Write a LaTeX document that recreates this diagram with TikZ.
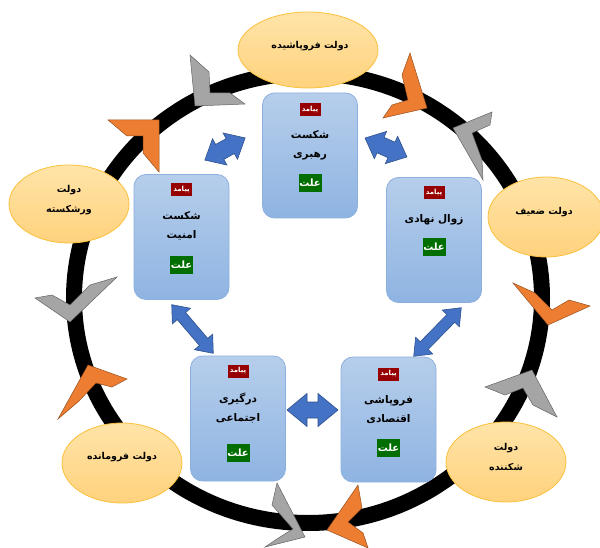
\documentclass[tikz,border=0pt]{standalone}
\usepackage{fontspec}
\newfontfamily\arabicfont[Script=Arabic]{DejaVu Sans}
\TeXXeTstate=1
\usetikzlibrary{shapes.geometric}
\newcommand\fa[1]{\beginR #1\endR}
\definecolor{stateline}{RGB}{250,192,60}
\definecolor{statetop}{RGB}{255,228,168}
\definecolor{statebot}{RGB}{255,210,125}
\definecolor{boxline}{RGB}{140,176,222}
\definecolor{boxtop}{RGB}{182,206,235}
\definecolor{boxbot}{RGB}{143,180,226}
\definecolor{tagred}{RGB}{150,0,0}
\definecolor{taggreen}{RGB}{0,110,0}
\definecolor{chevorange}{RGB}{237,125,49}
\definecolor{chevorangeline}{RGB}{150,80,30}
\definecolor{chevgray}{RGB}{165,165,165}
\definecolor{chevgrayline}{RGB}{100,100,100}
\definecolor{arrowblue}{RGB}{68,114,196}
\definecolor{arrowblueline}{RGB}{47,82,143}
\newcommand\dblarrow[7]{%
  \filldraw[bluearrow, shift={(#1,#2)}, rotate=#3]
    ({-#4/2},0) -- ({-#4/2+#7},{-#5/2}) -- ({-#4/2+#7},{-#6/2}) -- ({#4/2-#7},{-#6/2})
    -- ({#4/2-#7},{-#5/2}) -- ({#4/2},0) -- ({#4/2-#7},{#5/2}) -- ({#4/2-#7},{#6/2})
    -- ({-#4/2+#7},{#6/2}) -- ({-#4/2+#7},{#5/2}) -- cycle;}
\begin{document}
\begin{tikzpicture}[x=1pt,y=-1pt,
  ringline/.style={line width=16pt, black},
  statenode/.style={ellipse, draw=stateline, line width=0.8pt, top color=statetop, bottom color=statebot, inner sep=0pt},
  statetext/.style={font=\arabicfont\bfseries\fontsize{9.5}{20}\selectfont, align=center, inner sep=0pt},
  causebox/.style={rectangle, rounded corners=12pt, draw=boxline, line width=0.8pt, top color=boxtop, bottom color=boxbot, minimum width=95pt, minimum height=125pt, inner sep=0pt},
  maintext/.style={font=\arabicfont\bfseries\fontsize{10.5}{19}\selectfont, align=center, inner sep=0pt},
  effecttag/.style={fill=tagred, text=white, font=\arabicfont\bfseries\fontsize{7}{7}\selectfont, minimum width=21pt, minimum height=13pt, inner sep=0pt},
  causetag/.style={fill=taggreen, text=white, font=\arabicfont\bfseries\fontsize{10}{10}\selectfont, minimum width=23pt, minimum height=18pt, inner sep=0pt},
  orangechev/.style={fill=chevorange, draw=chevorangeline, line width=0.5pt},
  graychev/.style={fill=chevgray, draw=chevgrayline, line width=0.5pt},
  bluearrow/.style={fill=arrowblue, draw=arrowblueline, line width=0.6pt}
]
\useasboundingbox (0,0) rectangle (600,548);
% ring
\draw[ringline] (308,298) ellipse [x radius=234pt, y radius=225pt];
% chevrons
\filldraw[graychev] (190,55) -- (195,106) -- (245,104) -- (230,93) -- (210,93) -- (209,72) -- cycle;
\filldraw[orangechev] (108,120) -- (159,120) -- (159,172) -- (143,153) -- (143,136) -- (127,136) -- cycle;
\filldraw[orangechev] (410,53) -- (427,108) -- (383,118) -- (392,105) -- (408,100) -- (402,75) -- cycle;
\filldraw[graychev] (453,128) -- (492,112) -- (490,125) -- (472,133) -- (482,160) -- (483,180) -- cycle;
\filldraw[orangechev] (513,283) -- (548,325) -- (590,306) -- (569,300) -- (552,310) -- (535,293) -- cycle;
\filldraw[graychev] (485,387) -- (532,370) -- (557,417) -- (533,405) -- (523,388) -- (505,395) -- cycle;
\filldraw[orangechev] (358,485) -- (362,508) -- (348,522) -- (363,533) -- (368,548) -- (327,530) -- cycle;
\filldraw[graychev] (277,483) -- (272,505) -- (293,529) -- (280,537) -- (265,547) -- (305,537) -- cycle;
\filldraw[orangechev] (88,365) -- (127,379) -- (112,387) -- (96,383) -- (79,401) -- (58,419) -- cycle;
\filldraw[graychev] (35,298) -- (70,322) -- (117,277) -- (90,285) -- (70,305) -- (52,295) -- cycle;
% state ellipses
\node[statenode, minimum width=140pt, minimum height=76pt] (s1) at (308,50) {};
\node[statetext] (s1t) at (310,46) {\fa{دولت فروپاشیده}};
\node[statenode, minimum width=120pt, minimum height=78pt] (s2) at (69,204) {};
\node[statetext] (s2t) at (69,200) {\fa{دولت}\\\fa{ورشکسته}};
\node[statenode, minimum width=116pt, minimum height=80pt] (s3) at (546,217) {};
\node[statetext] (s3t) at (544,212) {\fa{دولت ضعیف}};
\node[statenode, minimum width=120pt, minimum height=80pt] (s4) at (122,463) {};
\node[statetext] (s4t) at (122,457) {\fa{دولت فرومانده}};
\node[statenode, minimum width=120pt, minimum height=80pt] (s5) at (506,462) {};
\node[statetext] (s5t) at (506,457) {\fa{دولت}\\\fa{شکننده}};
% boxes
\node[causebox] (b1) at (310,155.5) {};
\node[effecttag] (b1e) at (310,110) {\fa{پیامد}};
\node[maintext] (b1t) at (310,145) {\fa{شکست}\\\fa{رهبری}};
\node[causetag] (b1c) at (310,183) {\fa{علت}};
\node[causebox] (b2) at (181.5,237) {};
\node[effecttag] (b2e) at (181.5,190) {\fa{پیامد}};
\node[maintext] (b2t) at (181.5,226) {\fa{شکست}\\\fa{امنیت}};
\node[causetag] (b2c) at (181.5,265) {\fa{علت}};
\node[causebox] (b3) at (434,240) {};
\node[effecttag] (b3e) at (434,193) {\fa{پیامد}};
\node[maintext] (b3t) at (434,220) {\fa{زوال نهادی}};
\node[causetag] (b3c) at (434,247) {\fa{علت}};
\node[causebox] (b4) at (238,418.5) {};
\node[effecttag] (b4e) at (238,371) {\fa{پیامد}};
\node[maintext] (b4t) at (238,408.5) {\fa{درگیری}\\\fa{اجتماعی}};
\node[causetag] (b4c) at (238,453) {\fa{علت}};
\node[causebox] (b5) at (388.5,419.5) {};
\node[effecttag] (b5e) at (388.5,374) {\fa{پیامد}};
\node[maintext] (b5t) at (388.5,409.5) {\fa{فروپاشی}\\\fa{اقتصادی}};
\node[causetag] (b5c) at (388.5,448) {\fa{علت}};
% double arrows
\dblarrow{225}{149}{28.8}{46}{30}{17}{17}
\dblarrow{386}{147.5}{-24.3}{46}{30}{17}{17}
\dblarrow{437.5}{332}{45.6}{68}{24}{11}{15}
\dblarrow{192.5}{329}{-49.5}{64}{24}{11}{15}
\dblarrow{312.5}{410}{0}{51}{33}{16}{20}
\end{tikzpicture}
\end{document}
